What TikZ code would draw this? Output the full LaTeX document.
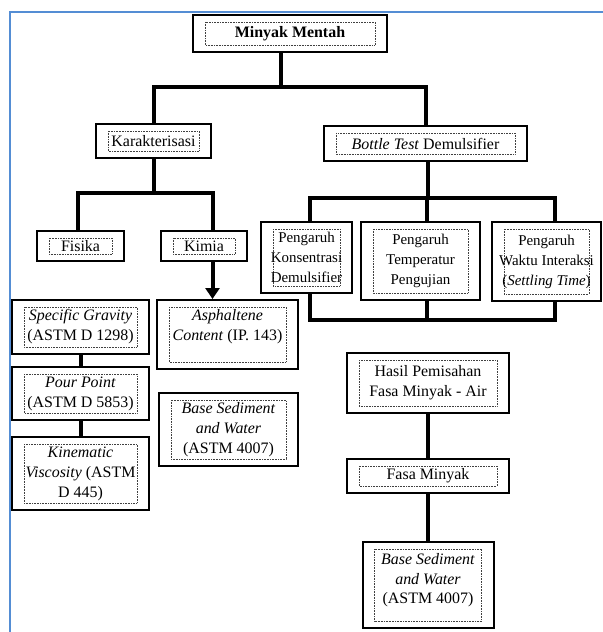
\documentclass[tikz,border=0pt]{standalone}
\usepackage{fontspec}
\setmainfont{Liberation Serif}
\usetikzlibrary{arrows.meta}
\definecolor{pageblue}{RGB}{84,141,212}
\begin{document}
\begin{tikzpicture}[x=1bp,y=-1bp,font=\fontsize{16}{20}\selectfont,
  box/.style={draw,line width=2bp,align=center,inner sep=0pt,
    path picture={\draw[densely dotted,line width=.6bp,black!75]
      ([shift={(12bp,-7bp)}]path picture bounding box.north west) rectangle
      ([shift={(-12bp,7bp)}]path picture bounding box.south east);}},
  small/.style={font=\fontsize{15}{20}\selectfont},
  link/.style={line width=4bp}]
\useasboundingbox (0,0) rectangle (603,632);
\draw[pageblue,line width=2bp] (10,632)--(10,12)--(603,12);
\node[box,minimum width=194bp,minimum height=37bp] (crude) at (290,33.5) {\textbf{Minyak Mentah}};
\node[box,minimum width=115bp,minimum height=34bp] (karak) at (153.5,141) {Karakterisasi};
\node[box,minimum width=203bp,minimum height=35bp] (bottle) at (425.5,143.5) {\textit{Bottle Test} Demulsifier};
\node[box,minimum width=87bp,minimum height=30bp] (fisika) at (80.5,246) {Fisika};
\node[box,minimum width=86bp,minimum height=30bp] (kimia) at (204,246) {Kimia};
\node[box,minimum width=137bp,minimum height=54bp] (sg) at (80.5,327) {\textit{Specific Gravity}\\(ASTM D 1298)};
\node[box,minimum width=137bp,minimum height=53bp] (pour) at (80.5,393.5) {\textit{Pour Point}\\(ASTM D 5853)};
\node[box,minimum width=137bp,minimum height=73bp] (kinem) at (80.5,473.5) {\textit{Kinematic}\\\textit{Viscosity} (ASTM\\D 445)};
\node[box,minimum width=141bp,minimum height=69bp] (asph) at (227.5,334.5) {\textit{Asphaltene}\\\textit{Content} (IP. 143)\\[-6pt]\strut};
\node[box,minimum width=139bp,minimum height=73bp] (bsw1) at (228.5,429.5) {\textit{Base Sediment}\\\textit{and Water}\\(ASTM 4007)};
\node[box,small,minimum width=91bp,minimum height=71bp] (konst) at (306.5,257.5) {Pengaruh\\Konsentrasi\\Demulsifier};
\node[box,small,minimum width=119bp,minimum height=78bp] (temp) at (420.5,261) {Pengaruh\\Temperatur\\Pengujian};
\node[box,small,minimum width=109bp,minimum height=79bp] (waktu) at (546.5,261.5) {Pengaruh\\Waktu Interaksi\\(\textit{Settling Time})};
\node[box,minimum width=162bp,minimum height=60bp] (hasil) at (428,383) {Hasil Pemisahan\\Fasa Minyak - Air};
\node[box,minimum width=162bp,minimum height=34bp] (fasa) at (428,476) {Fasa Minyak};
\node[box,minimum width=131bp,minimum height=86bp] (bsw2) at (428,585) {\textit{Base Sediment}\\\textit{and Water}\\(ASTM 4007)\\[-13pt]\strut};
\coordinate (j1) at (281,87);
\coordinate (j2) at (153,193);
\coordinate (j3) at (428,198);
\coordinate (j4) at (427,320);
\draw[link] (crude.south -| j1)--(j1);
\draw[link] (karak.north) |- (j1) -| (bottle.north);
\draw[link] (karak.south)--(karak.south |- j2);
\draw[link] ([xshift=-2.5bp]fisika.north) |- (j2) -| ([xshift=8.5bp]kimia.north);
\draw[link,-{Triangle[length=11bp,width=14bp]}] ([xshift=8.5bp]kimia.south)--([xshift=8.5bp]kimia.south |- asph.north);
\draw[link] (bottle.south -| j3)--(j3);
\draw[link] ([xshift=3bp]konst.north) |- (j3) -| ([xshift=8bp]waktu.north);
\draw[link] ([xshift=6.5bp]temp.north)--([xshift=6.5bp]temp.north |- j3);
\draw[link] ([xshift=3bp]konst.south) |- (j4) -| ([xshift=8bp]waktu.south);
\draw[link] ([xshift=6.5bp]temp.south)--([xshift=6.5bp]temp.south |- j4);
\draw[link] (sg)--(pour);
\draw[link] (pour)--(kinem);
\draw[link] (hasil)--(fasa);
\draw[link] (fasa)--(bsw2);
\end{tikzpicture}
\end{document}
